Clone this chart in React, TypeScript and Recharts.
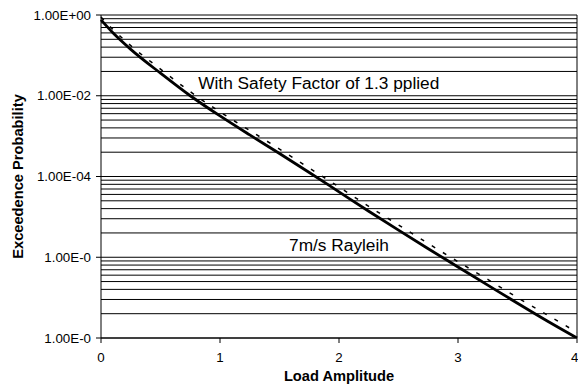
import React from 'react';
import {
  LineChart,
  Line,
  XAxis,
  YAxis,
  ReferenceDot,
  ReferenceLine,
  Label,
} from 'recharts';

const loadAmplitude = [0, 0.1, 0.25, 0.5, 0.75, 1, 1.25, 1.5, 1.75, 2, 2.25, 2.5, 2.75, 3, 3.25, 3.5, 3.75, 4];
// 7m/s Rayleigh exceedence
const rayleigh = [0.76, 0.363, 0.141, 0.0363, 0.01, 0.00316, 0.00107, 3.72e-4, 1.26e-4, 4.17e-5, 1.38e-5, 4.68e-6, 1.62e-6, 5.75e-7, 2.04e-7, 7.24e-8, 2.63e-8, 1.0e-8];
// with safety factor of 1.3 applied
const withSafety = [0.89, 0.44, 0.174, 0.0457, 0.0126, 0.00398, 0.00138, 4.79e-4, 1.62e-4, 5.5e-5, 1.82e-5, 6.3e-6, 2.19e-6, 7.76e-7, 2.82e-7, 1.0e-7, 3.72e-8, 1.38e-8];

const xTicks = [0, 1, 2, 3, 4];
const yTicks = [1, 1e-2, 1e-4, 1e-6, 1e-8];
const yTickLabels = ['1.00E+00', '1.00E-02', '1.00E-04', '1.00E-0', '1.00E-0'];
const gridBases = [1e-8, 1e-6, 1e-4, 1e-2];
const gridSteps = [1, 4, 9, 16, 25, 36, 49, 64, 81];

const data = loadAmplitude.map((x, i) => ({
  x,
  rayleigh: rayleigh[i],
  safety: withSafety[i],
}));

const gridValues = [1, ...gridBases.flatMap((b) => gridSteps.map((s) => b * s))];

const font = 'Liberation Sans, Arial, sans-serif';

const App = () => {
  return (
    <div style={{ position: 'absolute', left: 0, top: 0, background: '#fff', fontFamily: font }}>
      <LineChart
        width={578}
        height={387}
        data={data}
        margin={{ top: 15, right: 1, bottom: 0, left: 0 }}
      >
        <XAxis
          dataKey="x"
          type="number"
          domain={[0, 4]}
          ticks={xTicks}
          height={49}
          tickSize={5}
          tickMargin={10}
          stroke="#000"
          tick={{ fontSize: 13.33, fill: '#000', fontFamily: font }}
        >
          <Label
            content={({ viewBox }: any) => (
              <text
                x={viewBox.x + viewBox.width / 2}
                y={viewBox.y + 43}
                textAnchor="middle"
                fontSize={14.67}
                fontWeight="bold"
                fontFamily={font}
                fill="#000"
              >
                Load Amplitude
              </text>
            )}
          />
        </XAxis>
        <YAxis
          scale="log"
          domain={[1e-8, 1]}
          allowDataOverflow
          ticks={yTicks}
          tickFormatter={(v: number) => yTickLabels[yTicks.indexOf(v)]}
          width={101}
          tickSize={5}
          tickMargin={5}
          stroke="#000"
          tick={{ fontSize: 13.33, fill: '#000', fontFamily: font }}
        >
          <Label
            content={({ viewBox }: any) => {
              const cx = viewBox.x + 23;
              const cy = viewBox.y + viewBox.height / 2;
              return (
                <text
                  x={cx}
                  y={cy}
                  transform={`rotate(-90 ${cx} ${cy})`}
                  textAnchor="middle"
                  fontSize={14.67}
                  fontWeight="bold"
                  fontFamily={font}
                  fill="#000"
                >
                  Exceedence Probability
                </text>
              );
            }}
          />
        </YAxis>
        {gridValues.map((v) => (
          <ReferenceLine key={v} y={v} stroke="#000" strokeWidth={1} ifOverflow="visible" />
        ))}
        <ReferenceLine x={4} stroke="#000" ifOverflow="visible" />
        <Line
          type="monotone"
          dataKey="safety"
          stroke="#000"
          strokeWidth={1.5}
          strokeDasharray="4 9"
          dot={false}
          isAnimationActive={false}
        />
        <Line
          type="monotone"
          dataKey="rayleigh"
          stroke="#000"
          strokeWidth={2.8}
          dot={false}
          isAnimationActive={false}
        />
        <ReferenceDot
          x={1.83}
          y={0.021}
          r={0}
          fill="none"
          stroke="none"
          ifOverflow="visible"
          label={{ value: 'With Safety Factor of 1.3 pplied', position: 'center', fontSize: 17.3, fill: '#000', fontFamily: font }}
        />
        <ReferenceDot
          x={2.0}
          y={2.0e-6}
          r={0}
          fill="none"
          stroke="none"
          ifOverflow="visible"
          label={{ value: '7m/s Rayleih', position: 'center', fontSize: 17.3, fill: '#000', fontFamily: font }}
        />
      </LineChart>
    </div>
  );
};

export default App;
